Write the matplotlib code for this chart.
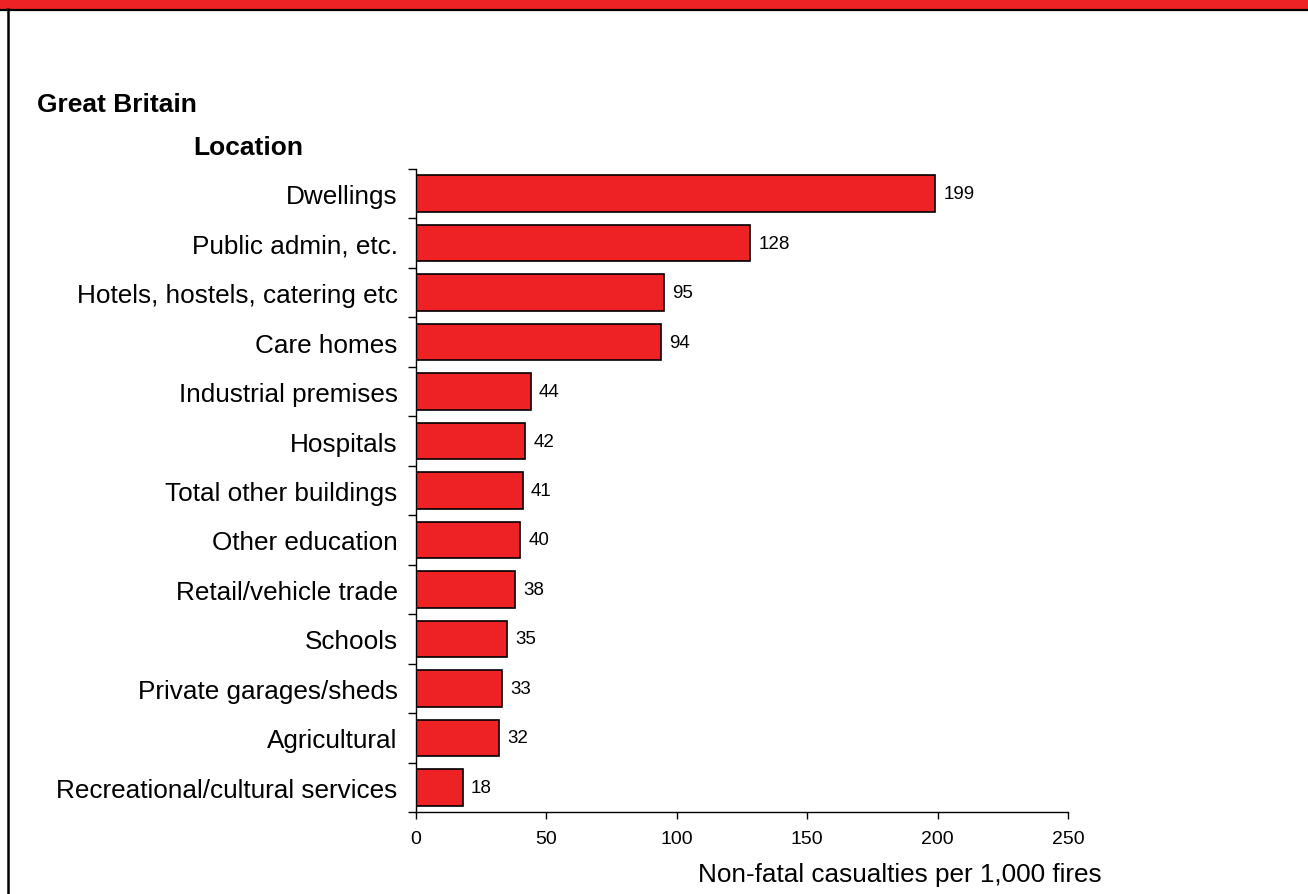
import matplotlib
matplotlib.use("Agg")
import matplotlib.pyplot as plt
from matplotlib.patches import Rectangle
from matplotlib.lines import Line2D
import numpy as np

plt.rcParams['font.family'] = ['Liberation Sans', 'DejaVu Sans']

# data (top to bottom as shown)
locations = ['Dwellings', 'Public admin, etc.', 'Hotels, hostels, catering etc',
             'Care homes', 'Industrial premises', 'Hospitals', 'Total other buildings',
             'Other education', 'Retail/vehicle trade', 'Schools',
             'Private garages/sheds', 'Agricultural', 'Recreational/cultural services']
casualties = [199, 128, 95, 94, 44, 42, 41, 40, 38, 35, 33, 32, 18]
x_ticks = [0, 50, 100, 150, 200, 250]

RED = '#EE2224'
W, H = 1308, 895

fig = plt.figure(figsize=(W / 100, H / 100), dpi=100)
fig.patch.set_facecolor('white')

# frame decorations
fig.add_artist(Rectangle((0, 1 - 9.5 / H), 1, 9.5 / H, transform=fig.transFigure,
                         facecolor=RED, edgecolor='none'))
fig.add_artist(Line2D([0, 1], [1 - 10.5 / H, 1 - 10.5 / H], transform=fig.transFigure,
                      color='black', lw=1.6))
fig.add_artist(Line2D([8 / W, 8 / W], [0, 1 - 10 / H], transform=fig.transFigure,
                      color='black', lw=1.8))

ax = fig.add_axes([415.7 / W, 1 - 813 / H, (1068.3 - 415.7) / W, (813 - 170) / H])

y = np.arange(len(locations))
ax.barh(y, casualties, height=0.74, color=RED, edgecolor='black', linewidth=1.2)
ax.set_ylim(len(locations) - 0.5, -0.5)
ax.set_xlim(0, 250)

for yi, v in zip(y, casualties):
    ax.annotate(str(v), (v, yi), xytext=(6, 0), textcoords='offset points',
                va='center', ha='left', fontsize=13.5)

ax.set_yticks(y)
ax.set_yticklabels(locations, fontsize=18.8)
ax.set_yticks(np.arange(-0.5, len(locations), 1), minor=True)
ax.tick_params(axis='y', which='major', length=0, pad=13)
ax.tick_params(axis='y', which='minor', length=6, width=1, direction='out')

ax.set_xticks(x_ticks)
ax.set_xticklabels([str(t) for t in x_ticks], fontsize=14)
ax.tick_params(axis='x', length=5, width=1, direction='out', pad=8)

for s in ['top', 'right']:
    ax.spines[s].set_visible(False)
for s in ['left', 'bottom']:
    ax.spines[s].set_linewidth(1)

fig.text(1102 / W, 1 - 882 / H, 'Non-fatal casualties per 1,000 fires',
         ha='right', va='baseline', fontsize=18.8)
fig.text(37 / W, 1 - 112 / H, 'Great Britain', ha='left', va='baseline',
         fontsize=19, fontweight='bold')
fig.text(193 / W, 1 - 155 / H, 'Location', ha='left', va='baseline',
         fontsize=19, fontweight='bold')

fig.savefig('out.png', dpi=100)
